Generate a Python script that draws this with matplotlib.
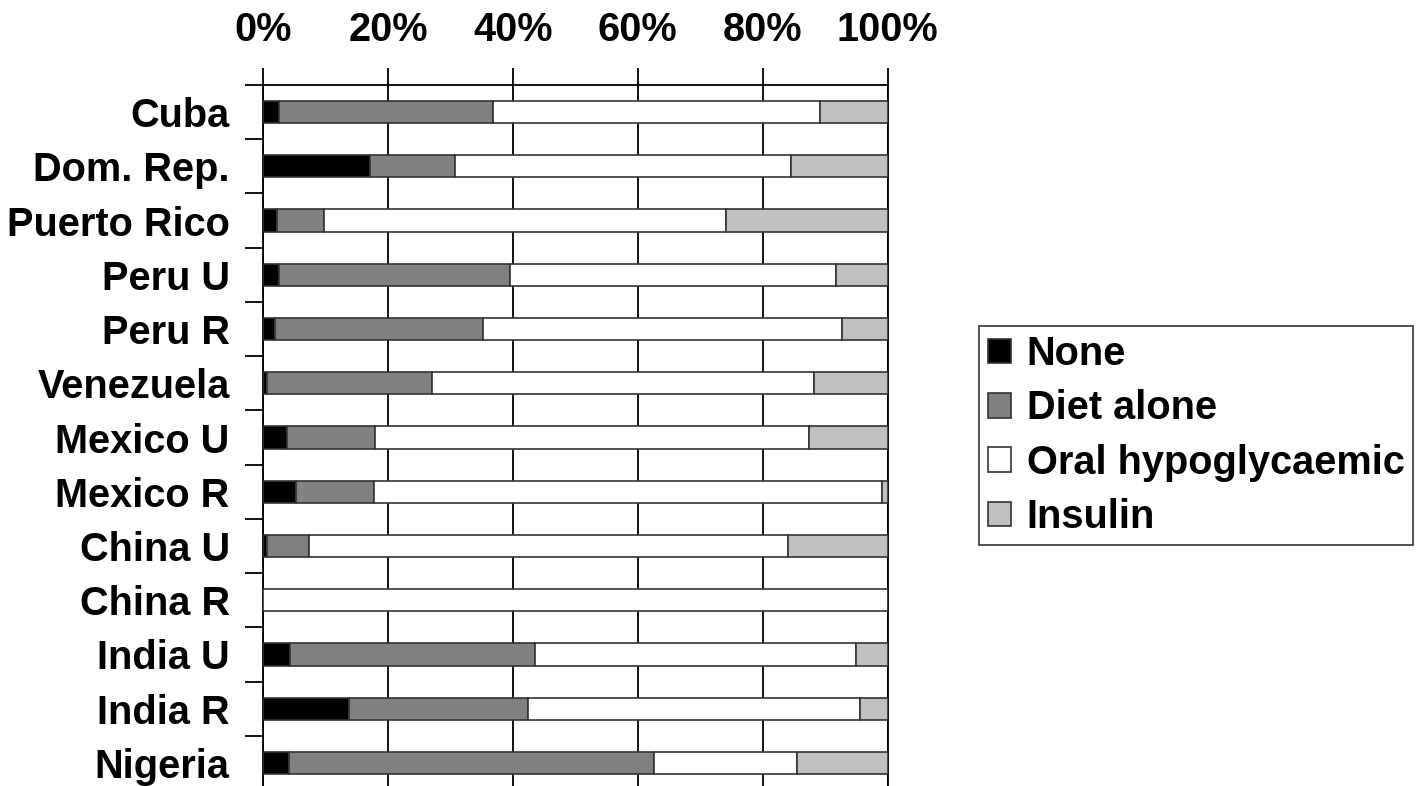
import matplotlib
matplotlib.use("Agg")
import matplotlib.pyplot as plt
import numpy as np

categories = ["Cuba", "Dom. Rep.", "Puerto Rico", "Peru U", "Peru R", "Venezuela",
              "Mexico U", "Mexico R", "China U", "China R", "India U", "India R", "Nigeria"]
none_vals = [2.6, 17.1, 2.2, 2.6, 2.0, 0.6, 3.8, 5.3, 0.6, 0.0, 4.4, 13.8, 4.2]
diet_vals = [34.3, 13.6, 7.6, 37.0, 33.3, 26.4, 14.1, 12.4, 6.7, 0.0, 39.2, 28.7, 58.4]
oral_vals = [52.3, 53.8, 64.3, 52.1, 57.4, 61.2, 69.5, 81.4, 76.8, 100.0, 51.4, 53.1, 22.9]
insulin_vals = [10.8, 15.5, 25.9, 8.3, 7.3, 11.8, 12.6, 0.9, 15.9, 0.0, 5.0, 4.4, 14.5]

series_names = ["None", "Diet alone", "Oral hypoglycaemic", "Insulin"]
series_colors = ["#000000", "#808080", "#ffffff", "#c0c0c0"]
xtick_vals = [0, 20, 40, 60, 80, 100]
xtick_labels = ["0%", "20%", "40%", "60%", "80%", "100%"]

plt.rcParams['font.family'] = ['Liberation Sans', 'DejaVu Sans']
plt.rcParams['font.weight'] = 'bold'
FS = 28.6

W, H = 1417, 786
fig = plt.figure(figsize=(W / 100, H / 100), dpi=100)
ax = fig.add_axes([263 / W, 1 - 790 / H, (887.5 - 263) / W, (790 - 85) / H])

y = np.arange(len(categories))
left = np.zeros(len(categories))
for vals, name, col in zip([none_vals, diet_vals, oral_vals, insulin_vals], series_names, series_colors):
    v = np.array(vals)
    ax.barh(y, v, left=left, height=0.41, color=col, edgecolor="#333333",
            linewidth=1.2, label=name, zorder=3)
    left += v

ax.set_xlim(0, 100)
ax.set_ylim(len(categories) - 0.5, -0.5)

ax.xaxis.tick_top()
ax.set_xticks(xtick_vals)
ax.set_xticklabels(xtick_labels, fontsize=FS, fontweight='bold')
ax.tick_params(axis='x', direction='out', length=12, width=1.3, pad=14)
ax.grid(axis='x', color='black', linewidth=1.3, zorder=0)

ax.set_yticks(np.arange(-0.5, len(categories), 1.0))
ax.set_yticklabels([])
ax.set_yticks(y, minor=True)
ax.set_yticklabels(categories, minor=True, fontsize=FS, fontweight='bold')
ax.tick_params(axis='y', which='major', direction='out', length=13, width=1.3)
ax.tick_params(axis='y', which='minor', length=0, pad=24)

for s in ['top', 'left', 'right']:
    ax.spines[s].set_linewidth(1.3)
    ax.spines[s].set_color('black')
ax.spines['bottom'].set_visible(False)

leg = ax.legend(loc='center left', bbox_to_anchor=(979 / W, 1 - 435.5 / H),
                bbox_transform=fig.transFigure, frameon=True, fancybox=False,
                edgecolor='black', fontsize=FS, handlelength=0.58, handleheight=0.58,
                handletextpad=0.4, labelspacing=0.41, borderpad=0.22, borderaxespad=0)
leg.get_frame().set_linewidth(1.2)
for t in leg.get_texts():
    t.set_fontweight('bold')

fig.savefig("out.png", dpi=100)
